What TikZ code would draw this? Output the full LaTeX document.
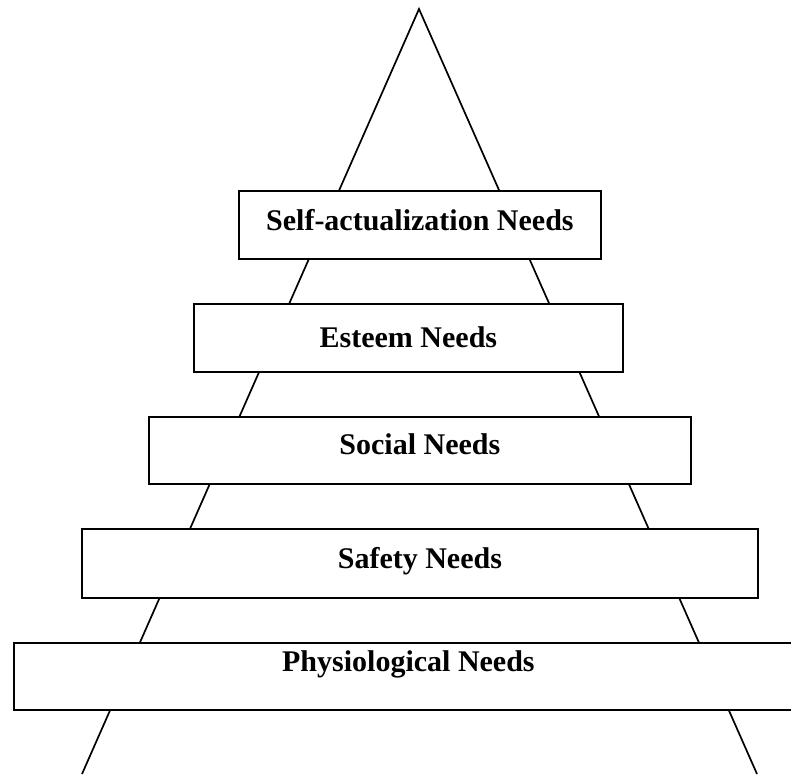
\documentclass[tikz,border=0pt]{standalone}
\usepackage{fontspec}
\setmainfont{Liberation Serif}

\begin{document}
\begin{tikzpicture}[
        x=1pt, y=-1pt,
        side line/.style={
                line width=1.7pt
            },
        need box/.style={
                draw,
                line width=1.8pt,
                fill=white,
                rectangle,
                inner sep=0pt,
                anchor=north west,
                font=\fontsize{30}{36}\selectfont\bfseries
            }]
        \useasboundingbox (0,0) rectangle (791,774);
        \clip (0,0) rectangle (791,774);

        \coordinate (apex) at (419,9);
        \coordinate (left foot) at (82,774);
        \coordinate (right foot) at (757,774);

        \draw [side line] (left foot) -- (apex) -- (right foot);

        \node [need box, minimum width=362pt, text height=40pt, text depth=28pt] (self) at (238,190) {Self-actualization Needs};
        \node [need box, minimum width=429pt, text height=44pt, text depth=24pt] (esteem) at (193,303) {Esteem Needs};
        \node [need box, minimum width=542pt, text height=38pt, text depth=29pt] (social) at (148,416) {Social Needs};
        \node [need box, minimum width=676pt, text height=40pt, text depth=29pt] (safety) at (81,528) {Safety Needs};
        \node [need box, minimum width=789pt, text height=29pt, text depth=38pt] (physio) at (13,642) {Physiological Needs};
    \end{tikzpicture}
\end{document}
